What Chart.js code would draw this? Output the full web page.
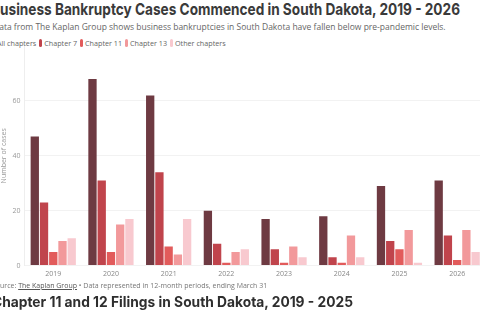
<!DOCTYPE html>
<html>
<head>
<meta charset="utf-8">
<script src="https://cdn.jsdelivr.net/npm/chart.js@4.4.1/dist/chart.umd.min.js"></script>
<style>
  html, body { margin: 0; padding: 0; width: 480px; height: 319px; overflow: hidden; background: #fff; }
  body { position: relative; font-family: "Open Sans", sans-serif; }
  #title { position: absolute; left: -9px; top: -1px; white-space: nowrap; font-family: Inter, sans-serif; font-weight: 700; font-size: 16.5px; color: #3a3a3a; transform-origin: 0 0; }
  #subtitle { position: absolute; left: -7px; top: 21px; white-space: nowrap; font-size: 8.5px; color: #666; }
  #legend { position: absolute; left: -8px; top: 38px; white-space: nowrap; font-size: 7.2px; color: #666; }
  #legend span.item { margin-right: 3px; }
  #legend i { display: inline-block; width: 3px; height: 8px; border-radius: 1.5px; vertical-align: -1px; margin-right: 2px; }
  #chartBox { position: absolute; left: 0; top: 36px; width: 492px; height: 246px; }
  #source { position: absolute; left: -8px; top: 281px; white-space: nowrap; font-size: 7px; color: #777; }
  #source u { color: #555; }
  #title2 { position: absolute; left: -8px; top: 293px; white-space: nowrap; font-family: Inter, sans-serif; font-weight: 700; font-size: 14.5px; color: #2e2e2e; transform-origin: 0 0; }
</style>
</head>
<body>
<div id="title">Business Bankruptcy Cases Commenced in South Dakota, 2019 - 2026</div>
<div id="subtitle">Data from The Kaplan Group shows business bankruptcies in South Dakota have fallen below pre-pandemic levels.</div>
<div id="legend"></div>
<div id="chartBox"><canvas id="bankruptcyChart"></canvas></div>
<div id="source">Source: <u>The Kaplan Group</u> • Data represented in 12-month periods, ending March 31</div>
<div id="title2">Chapter 11 and 12 Filings in South Dakota, 2019 - 2025</div>

<script>
// Data
const years = ['2019', '2020', '2021', '2022', '2023', '2024', '2025', '2026'];
const seriesNames = ['All chapters', 'Chapter 7', 'Chapter 11', 'Chapter 13', 'Other chapters'];
const allChapters = [47, 68, 62, 20, 17, 18, 29, 31];
const chapter7 = [23, 31, 34, 8, 6, 3, 9, 11];
const chapter11 = [5, 5, 7, 1, 1, 1, 6, 2];
const chapter13 = [9, 15, 4, 5, 7, 11, 13, 13];
const otherChapters = [10, 17, 17, 6, 3, 3, 1, 5];
const yTicks = [0, 20, 40, 60];

const seriesColors = ['#6e3a42', '#c0444c', '#e25b5b', '#f2999b', '#f8c9cf'];
const seriesData = [allChapters, chapter7, chapter11, chapter13, otherChapters];

// Squeeze headline text horizontally to the width it has in the picture
function fitWidth(el, width) {
  const w = el.getBoundingClientRect().width;
  if (w > 0) el.style.transform = 'scaleX(' + (width / w) + ')';
}
fitWidth(document.getElementById('title'), 469);
fitWidth(document.getElementById('title2'), 361);

// Legend built from series names
const legendEl = document.getElementById('legend');
seriesNames.forEach((name, i) => {
  const item = document.createElement('span');
  item.className = 'item';
  item.innerHTML = '<i style="background:' + seriesColors[i] + '"></i>' + name;
  legendEl.appendChild(item);
});

const ctx = document.getElementById('bankruptcyChart');
new Chart(ctx, {
  type: 'bar',
  data: {
    labels: years,
    datasets: seriesNames.map((name, i) => ({
      label: name,
      data: seriesData[i],
      backgroundColor: seriesColors[i],
      borderWidth: 0,
      categoryPercentage: 0.8,
      barPercentage: 0.9
    }))
  },
  options: {
    responsive: true,
    maintainAspectRatio: false,
    animation: false,
    layout: { padding: { top: 10, right: 6, left: 0, bottom: 0 } },
    plugins: {
      legend: { display: false },
      tooltip: { enabled: false }
    },
    scales: {
      x: {
        grid: { display: false, drawTicks: false },
        border: { display: false },
        ticks: {
          color: '#888',
          padding: 4,
          font: { family: 'Open Sans', size: 7 }
        }
      },
      y: {
        min: 0,
        max: 80,
        afterBuildTicks: function(scale) {
          scale.ticks = yTicks.map(v => ({ value: v }));
        },
        grid: { color: '#f2f2f2', drawTicks: false },
        border: { display: true, color: '#eeeeee' },
        ticks: {
          color: '#999',
          padding: 4,
          font: { family: 'Open Sans', size: 7 }
        },
        title: {
          display: true,
          text: 'Number of cases',
          color: '#999',
          padding: { top: 0, bottom: 0 },
          font: { family: 'Open Sans', size: 7 }
        }
      }
    }
  }
});
</script>
</body>
</html>
